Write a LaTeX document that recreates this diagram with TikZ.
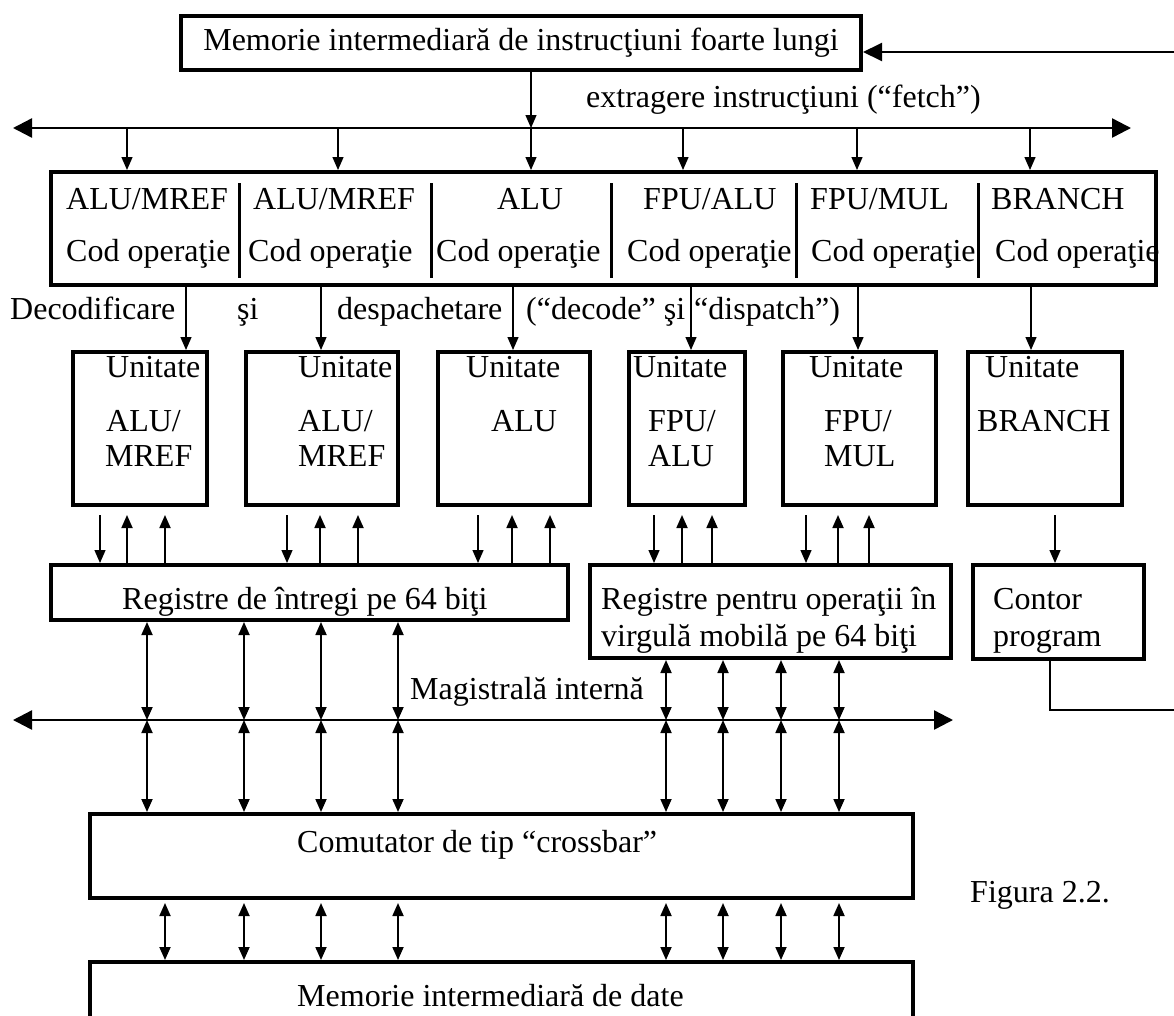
\documentclass[tikz,border=0pt]{standalone}
\usepackage{fontspec}
\setmainfont{Liberation Serif}
\usetikzlibrary{arrows.meta}
\tikzset{font=\fontsize{32}{38}\selectfont}
\tikzset{
  box/.style={draw, line width=4pt, inner sep=0pt},
  txt/.style={inner sep=0pt, anchor=west, text height=24pt, text depth=6pt},
  arrdn/.style={-{Triangle[length=13pt,width=11pt]}, line width=1.3pt},
  arrup/.style={-{Triangle[length=13pt,width=11pt]}, line width=1.8pt},
  arrbi/.style={{Triangle[length=13pt,width=11pt]}-{Triangle[length=13pt,width=11pt]}, line width=1.8pt},
  busline/.style={{Triangle[length=19pt,width=19pt]}-{Triangle[length=19pt,width=19pt]}, line width=2.4pt},
  divider/.style={line width=3pt}
}

\begin{document}
\begin{tikzpicture}[x=1pt,y=-1pt]
  \useasboundingbox (0,0) rectangle (1174,1015);
  \fill[white] (0,0) rectangle (1174,1015);

  \coordinate (fbL) at (13,128);
  \coordinate (fbR) at (1131,128);
  \coordinate (ibL) at (13,720);
  \coordinate (ibR) at (953,720);
  \coordinate (fbk1) at (1185,52);
  \coordinate (fbk2) at (1050,710);
  \coordinate (fbk3) at (1185,710);

  % boxes
  \node[box, minimum width=680pt, minimum height=54pt] (topbuf) at (521,43)
    {Memorie intermediară de instrucţiuni foarte lungi};
  \node[box, minimum width=1105pt, minimum height=113pt] (instr) at (603.5,228.5) {};
  \foreach \n/\x/\w in {1/140/134,2/322/152,3/514/152,4/687/116,5/859.5/153,6/1045/154}
    \node[box, minimum width=\w pt, minimum height=153pt] (u\n) at (\x,428.5) {};
  \node[box, minimum width=517pt, minimum height=55pt] (ireg) at (309.5,592.5) {};
  \node[box, minimum width=361pt, minimum height=93pt] (freg) at (770.5,611.5) {};
  \node[box, minimum width=171pt, minimum height=94pt] (pc) at (1058.5,612) {};
  \node[box, minimum width=823pt, minimum height=84pt] (xbar) at (501.5,856) {};
  \node[box, minimum width=823pt, minimum height=98pt] (dmem) at (501.5,1011) {};

  % instruction word fields
  \foreach \x in {239,431,611,796,978}
    \draw[divider] (\x,183) -- (\x,278);
  \node[txt] (op1) at (66,200) {ALU/MREF};
  \node[txt] (op2) at (253,200) {ALU/MREF};
  \node[txt] (op3) at (497,200) {ALU};
  \node[txt] (op4) at (643,200) {FPU/ALU};
  \node[txt] (op5) at (810,200) {FPU/MUL};
  \node[txt] (op6) at (991,200) {BRANCH};
  \foreach \n/\x in {1/66,2/248,3/436,4/627,5/811,6/995}
    \node[txt] (cod\n) at (\x,252) {Cod operaţie};

  % unit labels
  \foreach \n/\x in {1/106,2/298,3/466,4/633,5/809,6/985}
    \node[txt] (ut\n) at (\x,368) {Unitate};
  \node[txt] (ua1) at (106,422) {ALU/};
  \node[txt] (ub1) at (105,457) {MREF};
  \node[txt] (ua2) at (298,422) {ALU/};
  \node[txt] (ub2) at (298,457) {MREF};
  \node[txt] (ua3) at (491,422) {ALU};
  \node[txt] (ua4) at (648,422) {FPU/};
  \node[txt] (ub4) at (648,457) {ALU};
  \node[txt] (ua5) at (824,422) {FPU/};
  \node[txt] (ub5) at (824,457) {MUL};
  \node[txt] (ua6) at (977,422) {BRANCH};

  % other texts
  \node[txt] (fetch) at (586,98) {extragere instrucţiuni (“fetch”)};
  \node[txt] (dec1) at (10,310) {Decodificare};
  \node[txt] (dec2) at (237,310) {şi};
  \node[txt] (dec3) at (337,310) {despachetare};
  \node[txt] (dec4) at (526,310) {(“decode” şi};
  \node[txt] (dec5) at (694,310) {“dispatch”)};
  \node[txt] (iregt) at (122,600) {Registre de întregi pe 64 biţi};
  \node[txt] (fregt1) at (601,600) {Registre pentru operaţii în};
  \node[txt] (fregt2) at (601,637) {virgulă mobilă pe 64 biţi};
  \node[txt] (pct1) at (993,600) {Contor};
  \node[txt] (pct2) at (993,637) {program};
  \node[txt] (ibus) at (410,690) {Magistrală internă};
  \node[txt] (xbart) at (297,843) {Comutator de tip “crossbar”};
  \node[txt] (dmemt) at (297,997) {Memorie intermediară de date};
  \node[txt] (fig) at (970,893) {Figura 2.2.};

  % fetch
  \draw[busline] (fbL) -- (fbR);
  \draw[arrdn] (531,0 |- topbuf.south) -- (531,0 |- fbL);
  \foreach \x in {127,338,531,683,857,1030}
    \draw[arrdn] (\x,0 |- fbL) -- (\x,0 |- instr.north);

  % decode and dispatch
  \foreach \x in {186,321,513,691,858,1031}
    \draw[arrdn] (\x,0 |- instr.south) -- (\x,0 |- u1.north);

  % units <-> registers
  \foreach \x in {100,287,478}
    \draw[arrdn, shorten <=8pt] (\x,0 |- u1.south) -- (\x,0 |- ireg.north);
  \foreach \x in {127,165,320,358,512,550}
    \draw[arrup, shorten >=8pt] (\x,0 |- ireg.north) -- (\x,0 |- u1.south);
  \foreach \x in {654,806}
    \draw[arrdn, shorten <=8pt] (\x,0 |- u1.south) -- (\x,0 |- freg.north);
  \foreach \x in {682,712,838,869}
    \draw[arrup, shorten >=8pt] (\x,0 |- freg.north) -- (\x,0 |- u1.south);
  \draw[arrdn, shorten <=8pt] (1055,0 |- u6.south) -- (1055,0 |- pc.north);

  % internal bus
  \draw[busline] (ibL) -- (ibR);
  \foreach \x in {147,244,321,398} {
    \draw[arrbi] (\x,0 |- ireg.south) -- (\x,0 |- ibL);
    \draw[arrbi] (\x,0 |- ibL) -- (\x,0 |- xbar.north);
  }
  \foreach \x in {666,723,781,839} {
    \draw[arrbi] (\x,0 |- freg.south) -- (\x,0 |- ibL);
    \draw[arrbi] (\x,0 |- ibL) -- (\x,0 |- xbar.north);
  }
  \foreach \x in {165,244,321,398,666,723,781,839}
    \draw[arrbi, shorten <=3pt] (\x,0 |- xbar.south) -- (\x,0 |- dmem.north);

  % program counter feedback
  \draw[line width=2pt] (pc.south -| fbk2) -- (fbk2) -- (fbk3);
  \draw[line width=2pt, -{Triangle[length=19pt,width=18pt]}] (fbk1) -- (topbuf.east |- fbk1);
\end{tikzpicture}
\end{document}
